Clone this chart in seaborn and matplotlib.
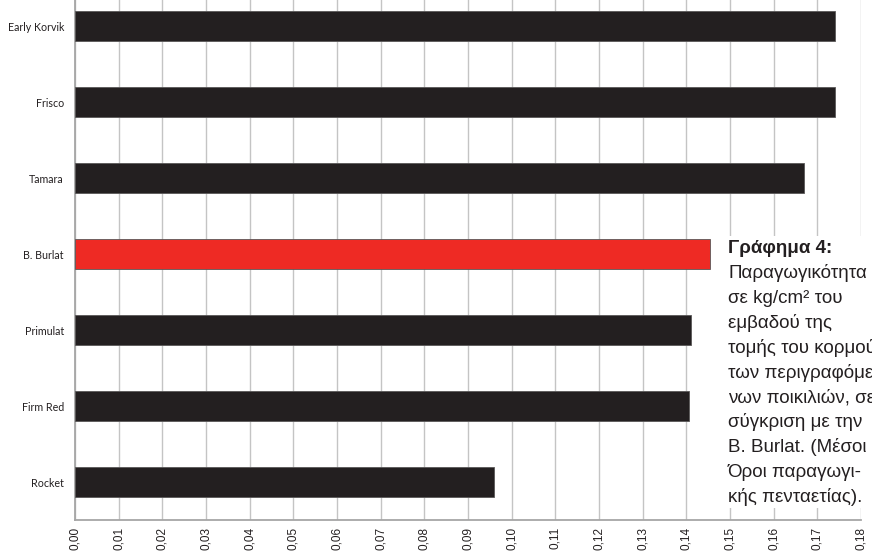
import matplotlib
matplotlib.use("Agg")
import matplotlib.pyplot as plt
from matplotlib.patches import Rectangle
from matplotlib.ticker import FuncFormatter, FixedLocator
import seaborn as sns
import numpy as np
import pandas as pd

# ---- data ----
categories = ["Early Korvik", "Frisco", "Tamara", "B. Burlat", "Primulat", "Firm Red", "Rocket"]
values = [0.174, 0.174, 0.167, 0.1455, 0.141, 0.1405, 0.096]
bar_colors = ["#231f20", "#231f20", "#231f20", "#ee2a24", "#231f20", "#231f20", "#231f20"]
x_ticks = [i / 100 for i in range(0, 19)]

title_line = "Γράφημα 4:"
body_lines = [
    "Παραγωγικότητα",
    "σε kg/cm² του",
    "εμβαδού της",
    "τομής του κορμού",
    "των περιγραφόμε-",
    "νων ποικιλιών, σε",
    "σύγκριση με την",
    "B. Burlat. (Μέσοι",
    "Όροι παραγωγι-",
    "κής πενταετίας).",
]

df = pd.DataFrame({"cat": categories, "val": values})

sns.set_theme(style="white")
W, H = 872, 552
fig = plt.figure(figsize=(W / 100, H / 100), dpi=100)
fig.patch.set_facecolor("white")
ax = fig.add_axes([75 / W, 32 / H, 786 / W, 532 / H])

sns.barplot(data=df, x="val", y="cat", hue="cat", palette=bar_colors, legend=False,
            orient="h", width=0.4, ax=ax, edgecolor="#5a5858", linewidth=0.6,
            saturation=1, zorder=3)

ax.set_xlim(0, 0.18)
ax.set_ylim(6.5, -0.5)
ax.set_xlabel("")
ax.set_ylabel("")

ax.xaxis.set_major_locator(FixedLocator(x_ticks))
ax.xaxis.set_major_formatter(FuncFormatter(lambda v, p: f"{v:.2f}".replace(".", ",")))
ax.grid(axis="x", color="#c4c4c4", linewidth=1.0, zorder=0)
ax.set_axisbelow(True)

ax.yaxis.set_minor_locator(FixedLocator(np.arange(-0.5, 7.0, 1.0)))
ax.tick_params(axis="y", which="major", length=0, pad=8)
ax.tick_params(axis="y", which="minor", length=3, width=0.8, color="#a6a6a6", direction="out")
ax.tick_params(axis="x", which="major", length=3, width=0.8, color="#a6a6a6", direction="out",
               pad=2, labelrotation=90)
for lab in ax.get_yticklabels():
    lab.set_fontfamily("Lato")
    lab.set_fontsize(7.7)
    lab.set_color("#231f20")
for lab in ax.get_xticklabels():
    lab.set_fontfamily("Liberation Sans")
    lab.set_fontsize(8.5)
    lab.set_color("#231f20")

for s in ["top", "right"]:
    ax.spines[s].set_visible(False)
for s in ["left", "bottom"]:
    ax.spines[s].set_color("#a6a6a6")
    ax.spines[s].set_linewidth(1.3)

# white box behind caption
fig.add_artist(Rectangle((718 / W, 1 - 508 / H), (W - 718) / W, (508 - 236) / H,
                         transform=fig.transFigure, facecolor="white", edgecolor="none",
                         zorder=2))

x0 = 728 / W
fig.text(x0, 1 - 253 / H, title_line, fontsize=13.5, fontweight="bold",
         family="Liberation Sans", color="#231f20", va="baseline", ha="left", zorder=3)
for i, line in enumerate(body_lines):
    yb = 278 + i * 24.9
    fig.text(x0, 1 - yb / H, line, fontsize=13.5, family="Liberation Sans",
             color="#231f20", va="baseline", ha="left", zorder=3)

fig.savefig("out.png", dpi=100)
